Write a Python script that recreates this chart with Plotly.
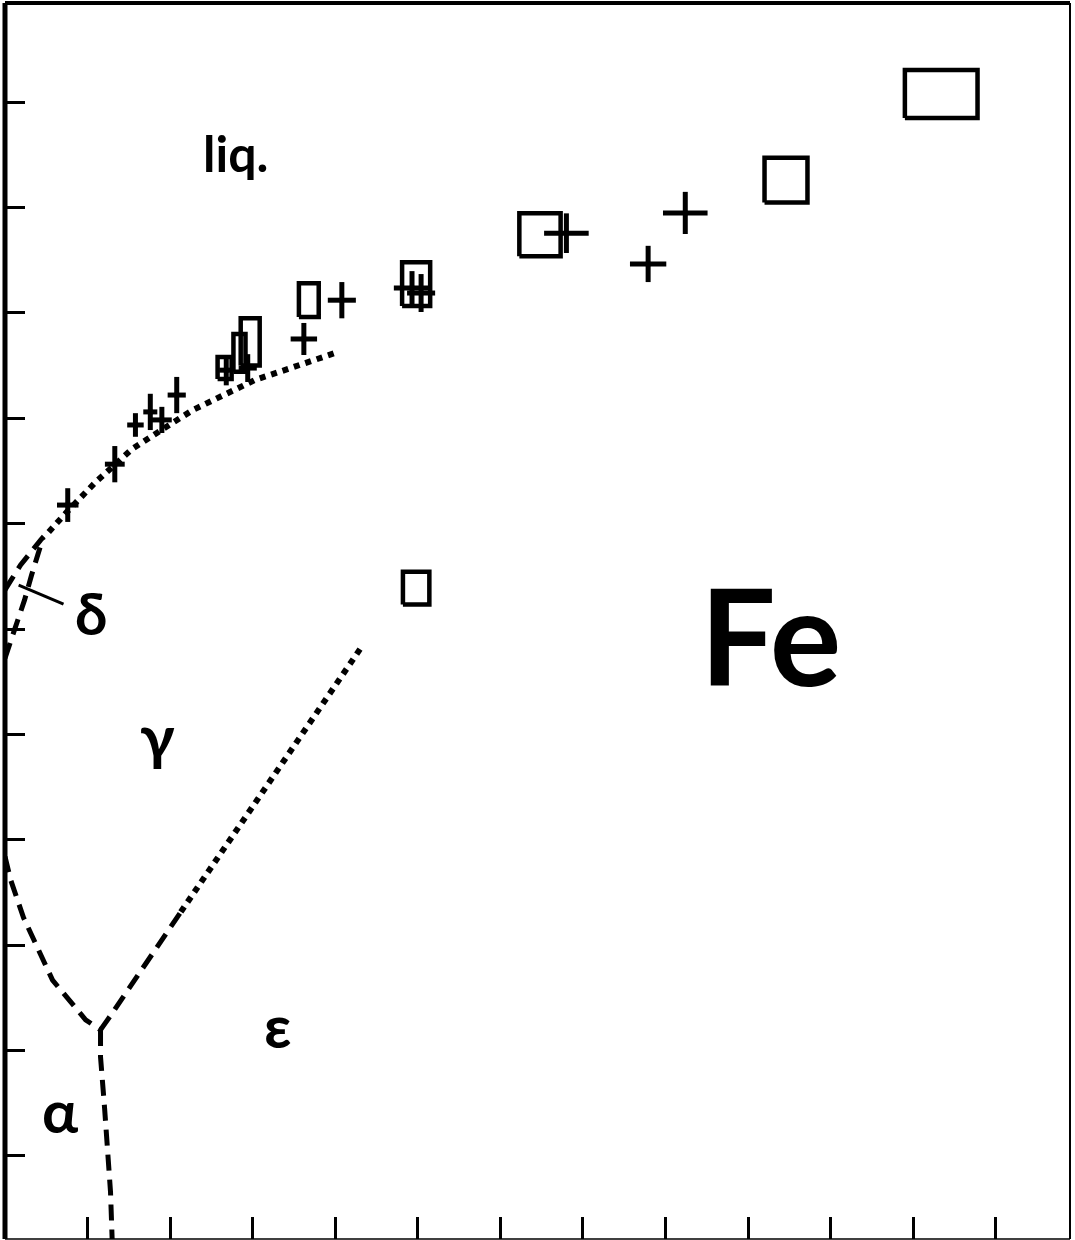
import plotly.graph_objects as go

# ---------------- data (pressure GPa, temperature K) ----------------
# open boxes: centre and half-extent (error box)
box_p  = [113.4, 94.6, 64.8, 49.8, 36.8, 29.7, 28.4, 26.6, 49.8]
box_t  = [3019, 2815, 2685, 2568, 2530, 2431, 2405, 2369, 1847]
box_dp = [4.4, 2.6, 2.5, 1.7, 1.2, 1.15, 0.73, 0.85, 1.6]
box_dt = [57, 53, 51, 52, 40, 56, 45, 26, 39]

# crosses: centre and half-extent (error bars)
cross_p  = [82.4, 77.9, 68.0, 40.8, 36.2, 49.3, 50.4, 29.4, 26.8, 20.8, 19.0, 17.6, 15.8, 13.3, 7.6]
cross_t  = [2737, 2616, 2689, 2530, 2438, 2559, 2547, 2369, 2364, 2305, 2246, 2265, 2234, 2141, 2044]
cross_dp = [2.7, 2.2, 2.7, 1.7, 1.6, 2.2, 1.7, 1.1, 0.85, 1.1, 1.2, 0.85, 1.0, 1.2, 1.3]
cross_dt = [50, 43, 47, 43, 38, 40, 45, 33, 36, 43, 31, 43, 28, 43, 40]

# phase boundaries
liq_p = [5.3, 7.5, 11.0, 15.4, 19.1, 22.8, 26.5, 30.3, 34.3, 40.0]
liq_t = [1980, 2028, 2099, 2177, 2224, 2270, 2305, 2341, 2367, 2405]

dliq_p = [0.0, 1.89, 4.31, 5.4]
dliq_t = [1843, 1902, 1961, 1985]

dg_p = [0.0, 2.37, 3.22, 4.0, 4.6]
dg_t = [1681, 1819, 1878, 1930, 1966]

ag_p = [0.0, 0.68, 2.25, 5.76, 9.76, 11.57]
ag_t = [1210, 1155, 1065, 917, 823, 799]

ge_dash_p = [11.57, 13.0, 21.3]
ge_dash_t = [799, 839, 1079]
ge_dot_p = [21.3, 43.1]
ge_dot_t = [1079, 1705]

ae_p = [11.57, 11.57, 12.06, 12.42, 12.78, 13.0]
ae_t = [799, 735, 614, 502, 415, 290]

delta_ptr_p = [1.65, 7.09]
delta_ptr_t = [1854, 1809]

x_ticks = [10, 20, 30, 40, 50, 60, 70, 80, 90, 100, 110, 120]
y_ticks = [500, 750, 1000, 1250, 1500, 1750, 2000, 2250, 2500, 2750, 3000]

labels = [
    ("liq.", 27.9, 2880, 50),
    ("δ", 10.4, 1790, 58),
    ("γ", 18.5, 1499, 62),
    ("ε", 33.0, 811, 60),
    ("α", 6.7, 609, 60),
    ("Fe", 92.7, 1736, 134),
]

# ---------------- figure ----------------
fig = go.Figure()

DASH = "16px,9px"
DOT = "6px,6px"

def line(xs, ys, dash, width=5):
    fig.add_trace(go.Scatter(x=xs, y=ys, mode="lines",
                             line=dict(color="black", width=width, dash=dash),
                             hoverinfo="skip", showlegend=False))

line(liq_p, liq_t, DOT, width=6)
line(dliq_p, dliq_t, DASH)
line(dg_p, dg_t, DASH)
line(ag_p, ag_t, DASH)
line(ge_dash_p, ge_dash_t, DASH)
line(ge_dot_p, ge_dot_t, DOT, width=6)
line(ae_p, ae_t, DASH)
line(delta_ptr_p, delta_ptr_t, "solid", width=3)

# error boxes
bx, by = [], []
for p, t, dp, dt in zip(box_p, box_t, box_dp, box_dt):
    bx += [p - dp, p + dp, p + dp, p - dp, p - dp, None]
    by += [t - dt, t - dt, t + dt, t + dt, t - dt, None]
fig.add_trace(go.Scatter(x=bx, y=by, mode="lines",
                         line=dict(color="black", width=4.5),
                         hoverinfo="skip", showlegend=False))

# crosses
fig.add_trace(go.Scatter(
    x=cross_p, y=cross_t, mode="markers",
    marker=dict(size=0, color="black"),
    error_x=dict(type="data", array=cross_dp, symmetric=True, thickness=5, width=0, color="black"),
    error_y=dict(type="data", array=cross_dt, symmetric=True, thickness=5, width=0, color="black"),
    hoverinfo="skip", showlegend=False))

FONT = "Lato, DejaVu Sans Condensed, sans-serif"
for txt, px, py, sz in labels:
    fig.add_annotation(x=px, y=py, text=txt, showarrow=False,
                       font=dict(family=FONT, size=sz, color="black", weight="bold"),
                       xanchor="center", yanchor="middle")

# frame
frame = [
    dict(x0=0, x1=0, y0=0, y1=1, w=5),
    dict(x0=0, x1=1, y0=1, y1=1, w=4),
    dict(x0=1, x1=1, y0=0, y1=1, w=2),
    dict(x0=0, x1=1, y0=0, y1=0, w=1.5),
]
for f in frame:
    fig.add_shape(type="line", xref="paper", yref="paper",
                  x0=f["x0"], x1=f["x1"], y0=f["y0"], y1=f["y1"],
                  line=dict(color="black", width=f["w"]))

fig.update_xaxes(range=[0, 129], showgrid=False, zeroline=False, showline=False,
                 ticks="inside", ticklen=22, tickwidth=3, tickcolor="black",
                 tickvals=x_ticks, showticklabels=False)
fig.update_yaxes(range=[303, 3235], showgrid=False, zeroline=False, showline=False,
                 ticks="inside", ticklen=20, tickwidth=2.5, tickcolor="black",
                 tickvals=y_ticks, showticklabels=False)

fig.update_layout(width=1075, height=1240,
                  margin=dict(l=5, r=5, t=3, b=1),
                  plot_bgcolor="white", paper_bgcolor="white")

fig.write_html("out.html", config={"displayModeBar": False},
               post_script="document.body.style.margin='0';document.body.style.overflow='hidden';")
